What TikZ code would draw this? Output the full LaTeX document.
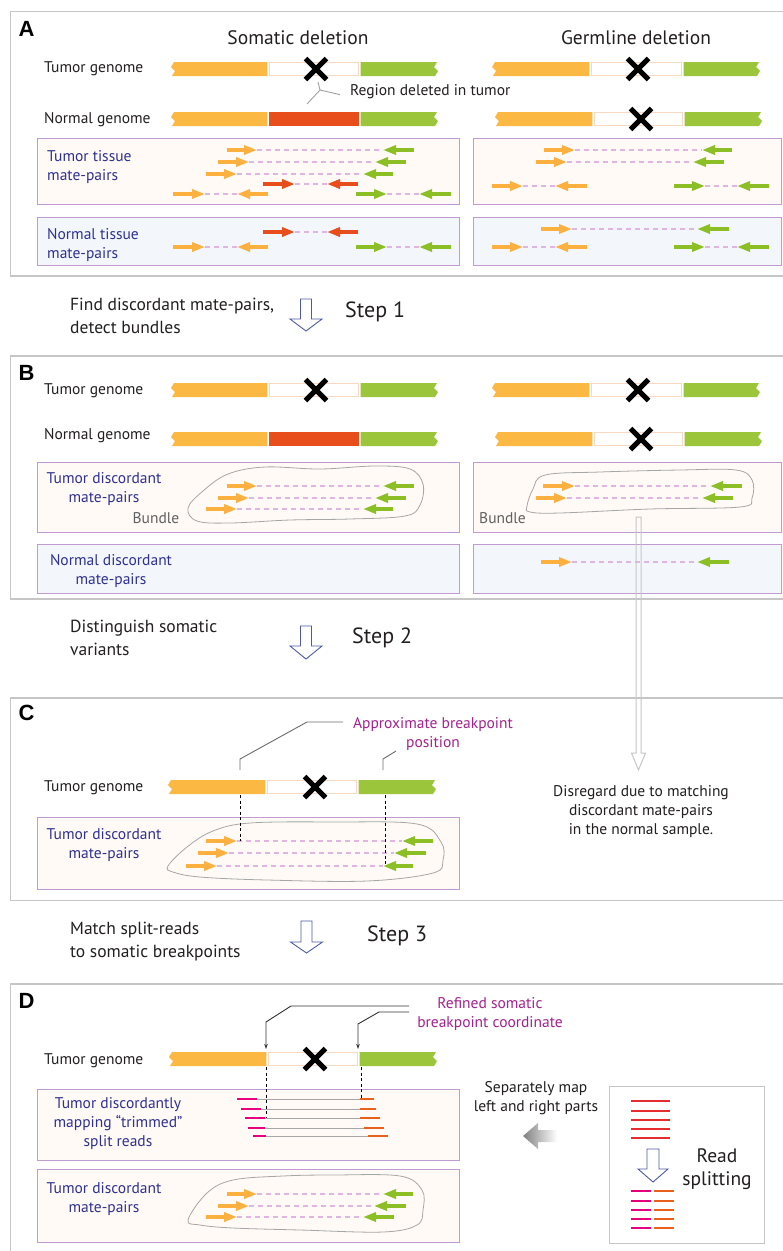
\documentclass[tikz,border=0pt]{standalone}
\usepackage{fontspec}
\setmainfont{PT Sans}
\newfontfamily\hvb{Liberation Sans}
\usetikzlibrary{arrows.meta}
\definecolor{cOr}{HTML}{FBB843}
\definecolor{cGr}{HTML}{9BC63C}
\definecolor{cROr}{HTML}{FBB040}
\definecolor{cRGr}{HTML}{8CBF26}
\definecolor{cRd}{HTML}{E84E1B}
\definecolor{cPe}{HTML}{F9D9C4}
\definecolor{cBx}{HTML}{C09AD0}
\definecolor{cTf}{HTML}{FFFAF5}
\definecolor{cNf}{HTML}{F3F7FB}
\definecolor{cNavy}{HTML}{2E3192}
\definecolor{cMag}{HTML}{A3238E}
\definecolor{cDa}{HTML}{E0B6E0}
\definecolor{cPan}{HTML}{C6C6C6}
\definecolor{cArr}{HTML}{4D5AA8}
\definecolor{cSpM}{HTML}{E6007E}
\definecolor{cSpO}{HTML}{E8601C}
\definecolor{cReadR}{HTML}{E52D2D}
\definecolor{cTx}{HTML}{231F20}
\definecolor{cCall}{HTML}{A0A0A0}
\newcommand\fsLab{\fontsize{15.5}{19}\selectfont}
\newcommand\fsHead{\fontsize{19.5}{23}\selectfont}
\newcommand\fsStep{\fontsize{17.5}{23}\selectfont}
\newcommand\fsNum{\fontsize{22}{26}\selectfont}
\newcommand\fsBig{\fontsize{19.5}{23}\selectfont}
\newcommand\fsLet{\fontsize{22}{26}\selectfont\hvb\bfseries}
% genome pieces
\newcommand\gorange[3]{\fill[cOr] ({#2+1},{#1-7}) -- ({#2-2},{#1-2}) -- ({#2+2},{#1+2}) -- ({#2-1},{#1+7}) -- ({#3-0.7},{#1+7}) -- ({#3-0.7},{#1-7}) -- cycle;}
\newcommand\ggreen[3]{\fill[cGr] ({#2+0.7},{#1-7}) -- ({#3},{#1-7}) -- ({#3-3},{#1-2}) -- ({#3+1},{#1+2}) -- ({#3-2},{#1+7}) -- ({#2+0.7},{#1+7}) -- cycle;}
\newcommand\gdel[3]{\draw[cPe, line width=1.3, fill=white] ({#2+1.4},{#1-6.3}) rectangle ({#3-1.4},{#1+6.3});}
\newcommand\gred[3]{\fill[cRd] ({#2+0.7},{#1-7}) rectangle ({#3-0.7},{#1+7});}
\newcommand\xmark[2]{\draw[line width=5, black] ({#1-10.5},{#2-10.5}) -- ({#1+10.5},{#2+10.5}) ({#1-10.5},{#2+10.5}) -- ({#1+10.5},{#2-10.5});}
% reads
\newcommand\readarr[4]{\draw[#4, line width=3.2, -{Triangle[length=13pt,width=9pt]}] (#2,#1) -- (#3,#1);}
\newcommand\dashlink[3]{\draw[cDa, line width=1.5, dash pattern=on 5pt off 4pt] (#2,#1) -- (#3,#1);}
\newcommand\mpair[7]{\dashlink{#1}{#3}{#6}\readarr{#1}{#2}{#3}{#4}\readarr{#1}{#5}{#6}{#7}}
\newcommand\hollowdown[6]{\draw[cArr, line width=0.9, fill=white] ({#1-#5},#2) -- ({#1+#5},#2) -- ({#1+#5},#3) -- ({#1+#6},#3) -- (#1,#4) -- ({#1-#6},#3) -- ({#1-#5},#3) -- cycle;}
\newcommand\splitrow[5]{\draw[gray!70, line width=0.8] (#3,#1) -- (#4,#1);
 \draw[cSpM, line width=2.6] (#2,#1) -- (#3,#1);
 \draw[cSpO, line width=2.6] (#4,#1) -- (#5,#1);}
\begin{document}
\begin{tikzpicture}[x=1pt,y=-1pt,
  lab/.style={font=\fsLab, text=cTx, inner sep=0pt, anchor=mid west},
  blab/.style={font=\fsLab, text=cNavy, inner sep=0pt, align=center},
  mlab/.style={font=\fsLab, text=cMag, inner sep=0pt, align=center},
  head/.style={font=\fsHead, text=cTx, inner sep=0pt},
  steptxt/.style={font=\fsStep, text=cTx, inner sep=0pt, align=left, anchor=west},
  stepnum/.style={font=\fsNum, text=cTx, inner sep=0pt, anchor=west},
  plet/.style={font=\fsLet, text=black, inner sep=0pt},
  panel/.style={draw=cPan, line width=1.2},
  tbox/.style={draw=cBx, fill=cTf, line width=1},
  nbox/.style={draw=cBx, fill=cNf, line width=1},
  blob/.style={draw=gray!70, line width=0.8},
  callout/.style={draw=cCall, line width=0.9}]
\useasboundingbox (0,0) rectangle (783,1251);
\fill[white] (0,0) rectangle (783,1251);

% ================= Panel A
\draw[panel] (10.5,11.5) rectangle (800,276);
\node[plet] (lA) at (26.5,29) {A};
\node[head] (hS) at (298,38) {Somatic deletion};
\node[head] (hG) at (636,38) {Germline deletion};
\node[lab] (tgA) at (44,70) {Tumor genome};
\node[lab] (ngA) at (44,121) {Normal genome};
\gorange{69}{173}{268}\gdel{69}{268}{360}\ggreen{69}{360}{437}\xmark{316}{69}
\gorange{119}{173}{268}\gred{119}{268}{360}\ggreen{119}{360}{437}
\gorange{69}{494}{590}\gdel{69}{590}{683}\ggreen{69}{683}{759}\xmark{638}{69}
\gorange{119}{497}{593}\gdel{119}{593}{684}\ggreen{119}{684}{761}\xmark{641}{119}
\node[lab] (reg) at (350,93) {Region deleted in tumor};
\coordinate (rj) at (320,90);
\draw[callout] ([xshift=-10pt,yshift=-3pt]reg.west) -- (rj) -- (318,82) (rj) -- (307,104);

\draw[tbox] (37,138) rectangle (459,204);
\draw[tbox] (473,138) rectangle (781,204);
\draw[nbox] (37,217) rectangle (459,265);
\draw[nbox] (473,217) rectangle (781,265);
\node[blab, align=left, anchor=west] (ttA) at (47,167.5) {Tumor tissue\\mate-pairs};
\node[blab, align=left, anchor=west] (ntA) at (47,245.5) {Normal tissue\\mate-pairs};
\mpair{150}{227}{257}{cROr}{414}{383}{cRGr}
\mpair{162}{218}{249}{cROr}{406}{375}{cRGr}
\mpair{174}{206}{237}{cROr}{393}{363}{cRGr}
\mpair{184}{263}{295}{cRd}{358}{327}{cRd}
\mpair{194}{173}{205}{cROr}{268}{237}{cROr}
\mpair{194}{356}{387}{cRGr}{451}{419}{cRGr}
\mpair{150}{544}{575}{cROr}{732}{702}{cRGr}
\mpair{162}{536}{567}{cROr}{724}{693}{cRGr}
\mpair{186}{492}{523}{cROr}{587}{555}{cROr}
\mpair{186}{674}{705}{cRGr}{769}{737}{cRGr}
\mpair{232}{263}{295}{cRd}{358}{327}{cRd}
\mpair{247}{173}{205}{cROr}{268}{237}{cROr}
\mpair{247}{356}{387}{cRGr}{451}{419}{cRGr}
\mpair{229}{541}{572}{cROr}{729}{697}{cRGr}
\mpair{247}{492}{523}{cROr}{587}{555}{cROr}
\mpair{247}{674}{705}{cRGr}{769}{737}{cRGr}

% ================= Step 1
\node[steptxt] (s1t) at (70,316) {Find discordant mate-pairs,\\detect bundles};
\hollowdown{306}{299}{319}{331}{5.5}{16}
\node[stepnum] (s1n) at (345,312) {Step 1};

% ================= Panel B
\draw[panel] (10.5,356) rectangle (800,599);
\node[plet] (lB) at (26.5,373) {B};
\node[lab] (tgB) at (44,392) {Tumor genome};
\node[lab] (ngB) at (44,437) {Normal genome};
\gorange{390}{173}{268}\gdel{390}{268}{360}\ggreen{390}{360}{437}\xmark{316}{390}
\gorange{439}{173}{268}\gred{439}{268}{360}\ggreen{439}{360}{437}
\gorange{390}{494}{590}\gdel{390}{590}{683}\ggreen{390}{683}{759}\xmark{638}{390}
\gorange{439}{497}{593}\gdel{439}{593}{684}\ggreen{439}{684}{761}\xmark{641}{439}
\draw[tbox] (37,462) rectangle (459,532);
\draw[tbox] (473,462) rectangle (781,532);
\draw[nbox] (37,544) rectangle (459,593);
\draw[nbox] (473,544) rectangle (781,593);
\node[blab] (tdB) at (104,489.5) {Tumor discordant\\mate-pairs};
\node[blab] (ndB) at (111,571) {Normal discordant\\mate-pairs};
\draw[blob] plot[smooth cycle, tension=0.6] coordinates {(188,508) (203,491) (228,474) (265,467) (320,469) (375,466) (410,469) (423,484) (420,505) (405,516) (350,519) (290,520) (230,523) (197,521)};
\draw[blob] plot[smooth cycle, tension=0.6] coordinates {(527,506) (533,489) (545,475) (600,472) (680,470) (736,470) (752,480) (752,498) (740,507) (650,509) (560,513) (530,512)};
\node[font=\fsLab, text=gray!75!black, inner sep=0pt] (bu1) at (156,518) {Bundle};
\node[font=\fsLab, text=gray!75!black, inner sep=0pt, anchor=mid west] (bu2) at (479,521) {Bundle};
\mpair{486}{227}{257}{cROr}{414}{383}{cRGr}
\mpair{498}{218}{249}{cROr}{406}{375}{cRGr}
\mpair{509}{206}{237}{cROr}{393}{363}{cRGr}
\mpair{486}{543}{575}{cROr}{742}{710}{cRGr}
\mpair{498}{536}{567}{cROr}{733}{702}{cRGr}
\mpair{562}{541}{572}{cROr}{729}{697}{cRGr}

% ================= Step 2
\node[steptxt] (s2t) at (70,638) {Distinguish somatic\\variants};
\hollowdown{306}{626}{646}{659}{5.5}{16}
\node[stepnum] (s2n) at (352,638) {Step 2};

% ================= Panel C
\draw[panel] (10.5,698) rectangle (800,900.5);
\node[plet] (lC) at (26.5,713) {C};
\node[lab] (tgC) at (44,789) {Tumor genome};
\gorange{787}{170}{266}\gdel{787}{266}{358}\ggreen{787}{358}{435}\xmark{315}{787}
\node[mlab] (apx) at (433,734) {Approximate breakpoint\\position};
\coordinate (c1a) at (343,722);
\coordinate (c1b) at (240,770);
\coordinate (c2a) at (396,751);
\coordinate (c2b) at (383,770);
\draw[draw=gray!85!black, line width=0.9] (c1a) -- (307,722) -- (240,759) -- (c1b);
\draw[draw=gray!85!black, line width=0.9] (c2a) -- (383,759) -- (c2b);
\draw[tbox] (37,817) rectangle (459,889);
\node[blab] (tdC) at (104,845.5) {Tumor discordant\\mate-pairs};
\draw[blob] plot[smooth cycle, tension=0.6] coordinates {(168,866) (187,847) (213,831) (250,823) (333,822) (417,824) (441,842) (443,860) (433,873) (367,881) (267,880) (200,877) (173,872)};
\mpair{841}{206}{237}{cROr}{433}{402}{cRGr}
\mpair{853}{198}{229}{cROr}{426}{394}{cRGr}
\mpair{866}{186}{217}{cROr}{413}{383}{cRGr}
\draw[black, line width=0.8, dash pattern=on 3pt off 2.5pt] (240,795) -- (240,841);
\draw[black, line width=0.8, dash pattern=on 3pt off 2.5pt] (385,795) -- (385,866);
\node[font=\fsLab, text=cTx, inner sep=0pt, align=center] (dis) at (641,812) {Disregard due to matching\\discordant mate-pairs\\in the normal sample.};
% gray arrow from B germline bundle
\draw[draw=cPan, line width=1] (636,517) -- (641,517) -- (641,753) -- (645.5,753) -- (638.5,770) -- (631.5,753) -- (636,753) -- cycle;

% ================= Step 3
\node[steptxt] (s3t) at (70,942) {Match split-reads\\to somatic breakpoints};
\hollowdown{306.5}{921}{942}{953}{5.5}{16}
\node[stepnum] (s3n) at (367,936) {Step 3};

% ================= Panel D
\draw[panel] (10.5,984) rectangle (800,1270);
\node[plet] (lD) at (26.5,1001) {D};
\node[mlab] (ref) at (490,1014) {Refined somatic\\breakpoint coordinate};
\node[lab] (tgD) at (44,1062) {Tumor genome};
\gorange{1059}{171}{267}\gdel{1059}{267}{359}\ggreen{1059}{359}{436}\xmark{315}{1059}
\coordinate (d1a) at (409,1006);
\coordinate (d1b) at (266,1049);
\coordinate (d2a) at (409,1012);
\coordinate (d2b) at (358,1049);
\draw[black!80, line width=0.9, -{Stealth[length=5pt,width=3.5pt]}] (d1a) -- (291,1006) -- (266,1022) -- (d1b);
\draw[black!80, line width=0.9, -{Stealth[length=5pt,width=3.5pt]}] (d2a) -- (379,1012) -- (358,1024) -- (d2b);
\draw[tbox] (37,1089) rectangle (459,1160);
\draw[tbox] (37,1169) rectangle (459,1242);
\node[blab] (spD) at (118,1124) {Tumor discordantly\\mapping “trimmed”\\split reads};
\node[blab] (tdD) at (104,1199.5) {Tumor discordant\\mate-pairs};
\splitrow{1099}{237}{257}{360}{374}
\splitrow{1109}{241}{261}{360}{376}
\splitrow{1118}{245}{265}{360}{380}
\splitrow{1128}{248}{265}{364}{384}
\splitrow{1136}{253}{266}{368}{388}
\draw[black, line width=0.8, dash pattern=on 3pt off 2.5pt] (266,1067) -- (266,1118);
\draw[black, line width=0.8, dash pattern=on 3pt off 2.5pt] (361,1067) -- (361,1099);
\draw[blob] plot[smooth cycle, tension=0.6] coordinates {(188,1220) (207,1193) (233,1180) (283,1176) (333,1175) (400,1176) (422,1190) (423,1210) (417,1225) (383,1232) (300,1230) (233,1228) (200,1225)};
\mpair{1194}{227}{257}{cROr}{413}{383}{cRGr}
\mpair{1206}{218}{249}{cROr}{406}{374}{cRGr}
\mpair{1217}{206}{237}{cROr}{394}{363}{cRGr}
\node[font=\fsLab, text=cTx, inner sep=0pt, align=center] (sep) at (536,1098.5) {Separately map\\left and right parts};
\shade[left color=black!50, right color=white] (523,1136) -- (538,1123) -- (538,1130) -- (557,1130) -- (557,1142) -- (538,1142) -- (538,1149) -- cycle;
\draw[draw=cPan, line width=1] (609,1086) rectangle (764,1243);
\foreach \yy in {1101,1111,1120,1129,1138} {\draw[cReadR, line width=2.6] (631,\yy) -- (670,\yy);}
\hollowdown{653}{1149}{1169}{1182}{6}{15}
\foreach \yy in {1191,1201,1210,1219,1228} {\draw[cSpM, line width=2.6] (631,\yy) -- (651,\yy); \draw[cSpO, line width=2.6] (654,\yy) -- (674,\yy);}
\node[font=\fsBig, text=cTx, inner sep=0pt, align=center] (rs) at (717,1169.5) {Read\\splitting};
\end{tikzpicture}
\end{document}
